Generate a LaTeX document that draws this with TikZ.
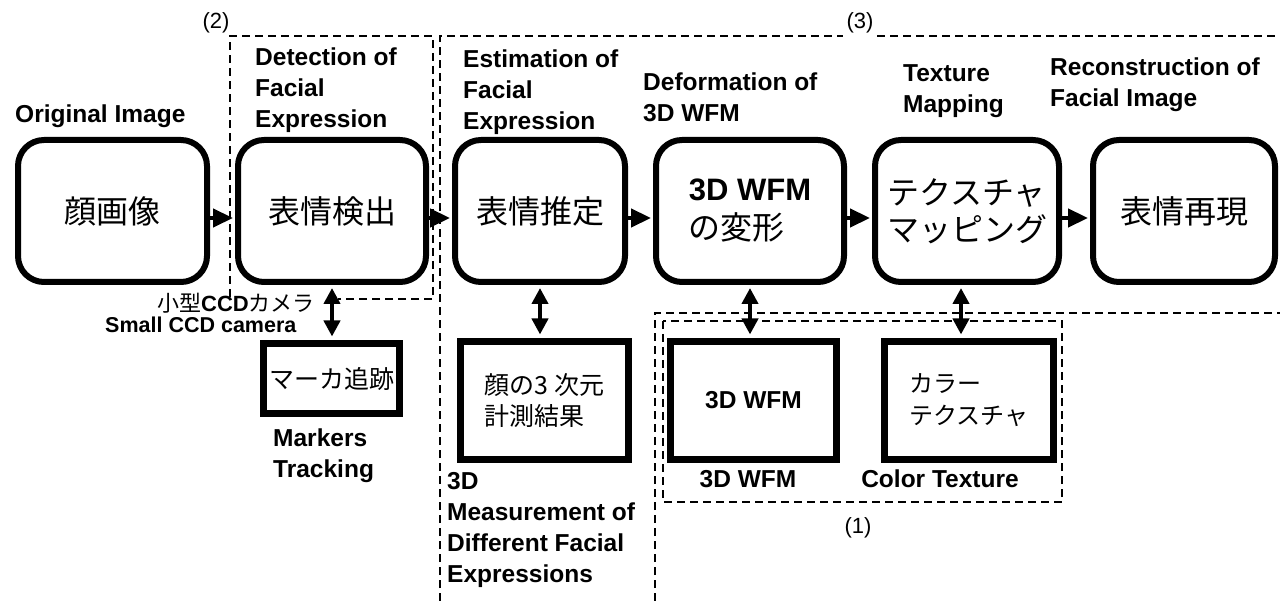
\documentclass[tikz,border=0pt]{standalone}
\usepackage{fontspec}
\setmainfont{Liberation Sans}
\newfontfamily\jp{Noto Sans CJK JP}
\usetikzlibrary{arrows.meta}
\begin{document}
\begin{tikzpicture}[x=1pt,y=-1pt,
  rbox/.style={draw, line width=6pt, rounded corners=26pt, minimum height=142pt, inner sep=0pt, font=\jp\fontsize{32}{37}\selectfont, align=left},
  sbox/.style={draw, line width=7pt, inner sep=0pt, align=left},
  lbl/.style={font=\bfseries\fontsize{24.5}{31}\selectfont, align=left, inner sep=0pt, anchor=base west},
  flow/.style={line width=4.5pt, shorten >=2pt, -{Triangle[length=20pt,width=18pt]}},
  both/.style={line width=4.5pt, shorten <=3pt, shorten >=3.5pt, {Triangle[length=16pt,width=16pt]}-{Triangle[length=16pt,width=16pt]}},
  region/.style={line width=2pt, dash pattern=on 8pt off 5pt},
  num/.style={font=\fontsize{22}{26}\selectfont, inner sep=0pt}
]
\useasboundingbox (0,0) rectangle (1280,601);

% dashed regions
\draw[region] (230,297) -- (230,36) -- (433,36) -- (433,299) -- (338,299);
\draw[region] (440,601) -- (440,36) -- (843,36);
\draw[region] (877,36) -- (1280,36);
\draw[region] (655,601) -- (655,313) -- (1280,313);
\draw[region] (663,321) rectangle (1062,502);

% main process boxes
\node[rbox, minimum width=189pt] (b1) at (112.5,211) {顔画像};
\node[rbox, minimum width=188pt] (b2) at (332,211) {表情検出};
\node[rbox, minimum width=170pt] (b3) at (540,211) {表情推定};
\node[rbox, minimum width=188pt] (b4) at (750,211) {{\rmfamily\bfseries\fontsize{31}{35}\selectfont 3D WFM}\\[2pt]の変形};
\node[rbox, minimum width=184pt] (b5) at (967,211) {テクスチャ\\マッピング};
\node[rbox, minimum width=182pt] (b6) at (1184,211) {表情再現};

% lower boxes
\node[sbox, minimum width=136pt, minimum height=70pt, font=\jp\fontsize{25}{30}\selectfont] (mk) at (331.5,378.5) {マーカ追跡};
\node[sbox, minimum width=168pt, minimum height=118pt, font=\jp\fontsize{25}{31}\selectfont] (ms) at (544.5,400.5) {顔の3 次元\\計測結果};
\node[sbox, minimum width=166pt, minimum height=118pt, font=\rmfamily\bfseries\fontsize{24.5}{28}\selectfont] (wf) at (753.5,400.5) {3D WFM};
\node[sbox, minimum width=169pt, minimum height=118pt, font=\jp\fontsize{24}{32}\selectfont] (ct) at (969,400.5) {カラー\\テクスチャ};

% flow arrows
\draw[flow] ([yshift=-7pt]b1.east) -- ([yshift=-7pt]b2.west);
\draw[flow] ([yshift=-7pt]b2.east) -- ([yshift=-7pt]b3.west);
\draw[flow] ([yshift=-7pt]b3.east) -- ([yshift=-7pt]b4.west);
\draw[flow] ([yshift=-7pt]b4.east) -- ([yshift=-7pt]b5.west);
\draw[flow] ([yshift=-7pt]b5.east) -- ([yshift=-7pt]b6.west);

% double arrows
\draw[both] (b2.south) -- (b2.south |- mk.north);
\draw[both] (b3.south) -- (b3.south |- ms.north);
\draw[both] (b4.south) -- (b4.south |- wf.north);
\draw[both] ([xshift=-6pt]b5.south) -- ([xshift=-6pt]b5.south |- ct.north);

% labels (anchor = baseline of last line)
\node[lbl] (l1) at (15,123) {Original Image};
\node[lbl] (l2) at (255,128) {Detection of\\Facial\\Expression};
\node[lbl] (l3) at (463,130) {Estimation of\\Facial\\Expression};
\node[lbl] (l4) at (643,122) {Deformation of\\3D WFM};
\node[lbl] (l5) at (903,113) {Texture\\Mapping};
\node[lbl] (l6) at (1050,107) {Reconstruction of\\Facial Image};
\node[lbl] (l7) at (273,477) {Markers\\Tracking};
\node[lbl] (l8) at (447,582) {3D\\Measurement of\\Different Facial\\Expressions};
\node[lbl, anchor=base] (l9) at (748,487) {3D WFM};
\node[lbl, anchor=base] (l10) at (940,487) {Color Texture};
\node[font=\jp\fontsize{22}{24}\selectfont, anchor=base west, inner sep=0pt] (l12) at (157,312) {小型{\rmfamily\bfseries CCD}カメラ};
\node[font=\bfseries\fontsize{21.5}{24}\selectfont, anchor=base west, inner sep=0pt] (l11) at (105,333) {Small CCD camera};

% region numbers
\node[num] (n2) at (216,23) {(2)};
\node[num] (n3) at (860,23) {(3)};
\node[num] (n1) at (858,528) {(1)};
\end{tikzpicture}
\end{document}
